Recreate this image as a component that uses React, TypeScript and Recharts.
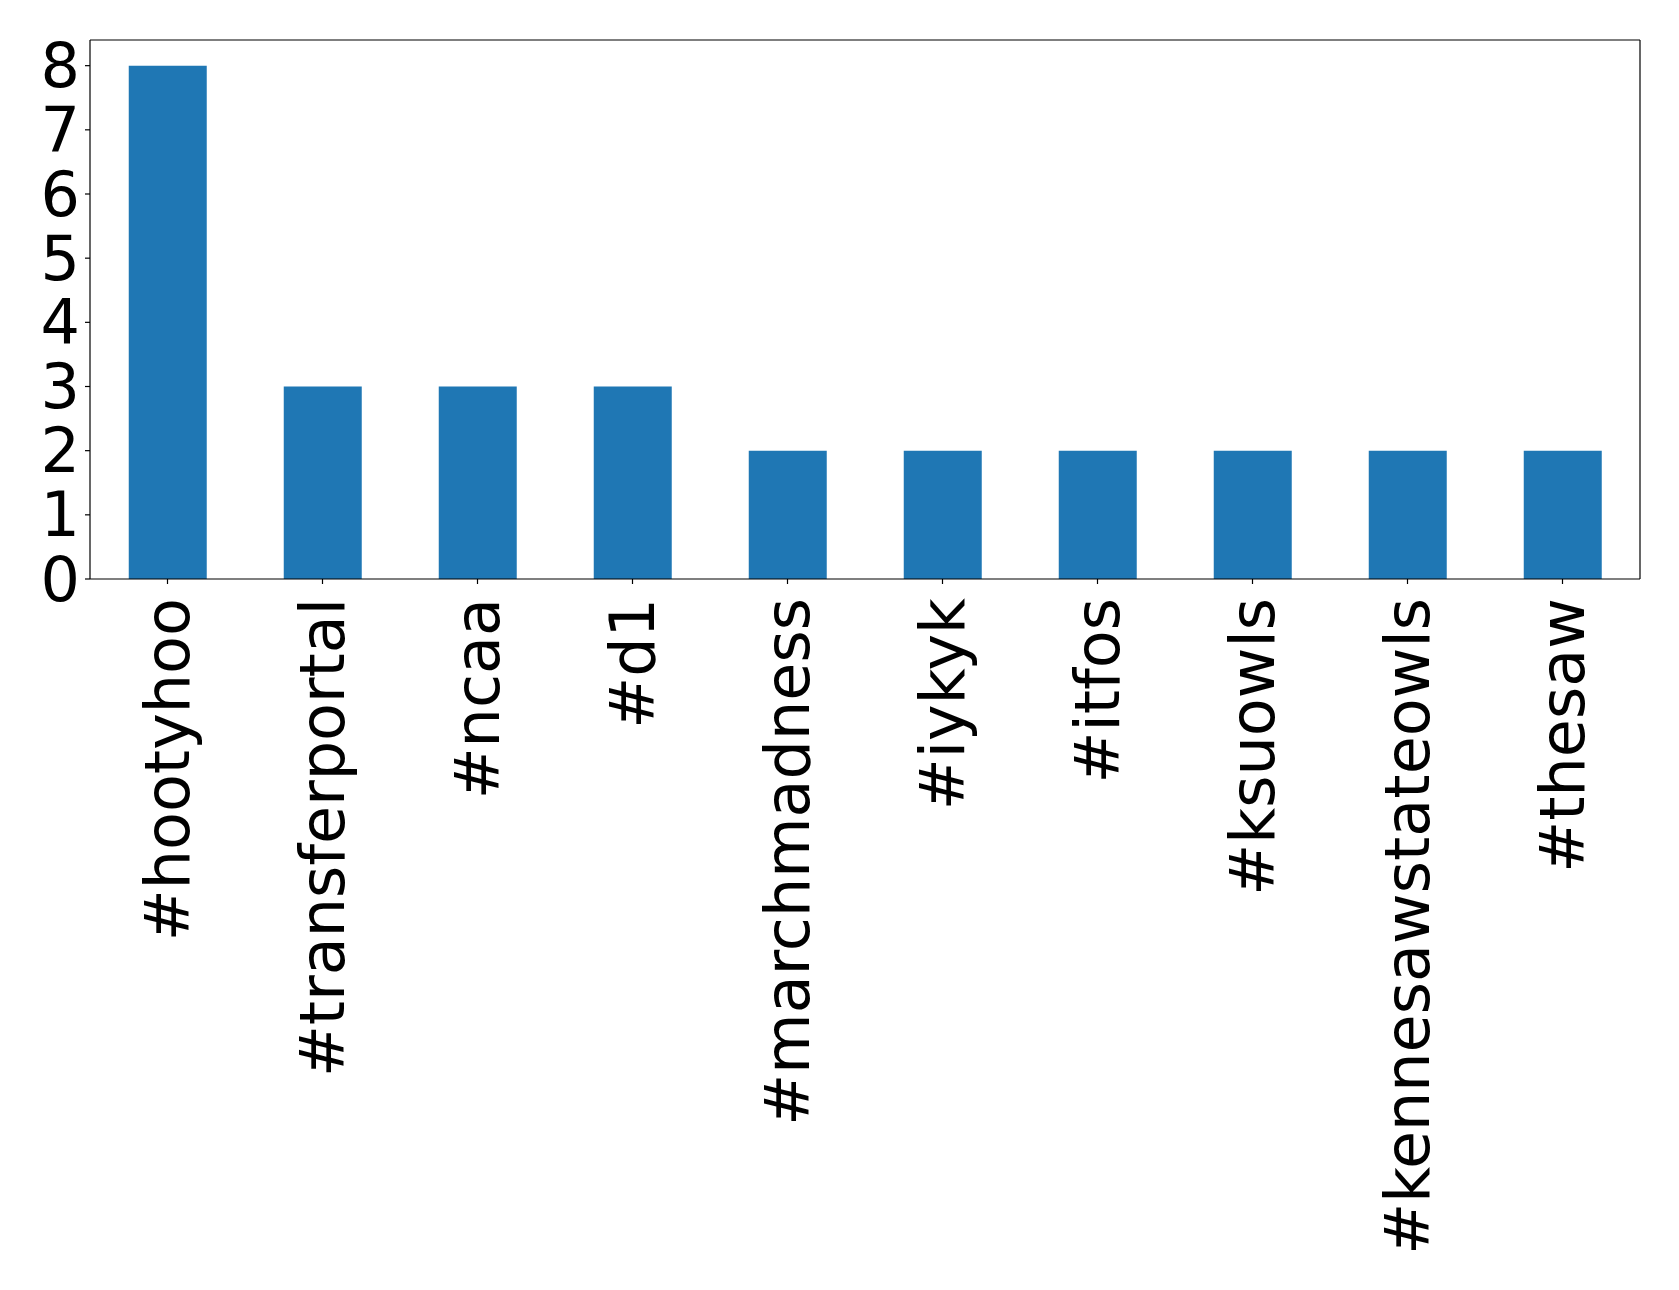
import React from "react";
import { BarChart, Bar, XAxis, YAxis } from "recharts";

const hashtags = [
  "#hootyhoo",
  "#transferportal",
  "#ncaa",
  "#d1",
  "#marchmadness",
  "#iykyk",
  "#itfos",
  "#ksuowls",
  "#kennesawstateowls",
  "#thesaw",
];
const counts = [8, 3, 3, 3, 2, 2, 2, 2, 2, 2];
const yTicks = [0, 1, 2, 3, 4, 5, 6, 7, 8];

const data = hashtags.map((h, i) => ({ tag: h, count: counts[i] }));

const FONT = "DejaVu Sans";
const FS = 62;

const XTick = (props: any) => {
  const { x, y, payload } = props;
  return (
    <text
      x={x}
      y={y}
      transform={`rotate(-90, ${x}, ${y})`}
      textAnchor="end"
      dominantBaseline="central"
      fontFamily={FONT}
      fontSize={FS}
      fill="#000"
    >
      {payload.value}
    </text>
  );
};

const YTick = (props: any) => {
  const { x, y, payload } = props;
  return (
    <text
      x={x}
      y={y}
      textAnchor="end"
      dominantBaseline="central"
      fontFamily={FONT}
      fontSize={FS}
      fill="#000"
    >
      {payload.value}
    </text>
  );
};

export default function App() {
  return (
    <div style={{ position: "absolute", left: 0, top: 0, background: "#fff" }}>
      <BarChart
        width={1679}
        height={1290}
        data={data}
        margin={{ top: 39, right: 38, left: 0, bottom: 0 }}
        barCategoryGap="25%"
      >
        <XAxis
          dataKey="tag"
          interval={0}
          height={711}
          tick={<XTick />}
          tickSize={5}
          tickMargin={14}
          axisLine={{ stroke: "#000", strokeWidth: 1.2 }}
          tickLine={{ stroke: "#000", strokeWidth: 1.2 }}
        />
        <XAxis
          xAxisId="top"
          dataKey="tag"
          orientation="top"
          height={1}
          tick={false}
          tickLine={false}
          axisLine={{ stroke: "#000", strokeWidth: 1.2 }}
        />
        <YAxis
          type="number"
          domain={[0, 8.4]}
          ticks={yTicks}
          width={90}
          tick={<YTick />}
          tickSize={5}
          tickMargin={5}
          axisLine={{ stroke: "#000", strokeWidth: 1.2 }}
          tickLine={{ stroke: "#000", strokeWidth: 1.2 }}
        />
        <YAxis
          yAxisId="right"
          orientation="right"
          type="number"
          domain={[0, 1]}
          width={1}
          tick={false}
          tickLine={false}
          axisLine={{ stroke: "#000", strokeWidth: 1.2 }}
        />
        <Bar dataKey="count" fill="#1f77b4" isAnimationActive={false} />
      </BarChart>
    </div>
  );
}
